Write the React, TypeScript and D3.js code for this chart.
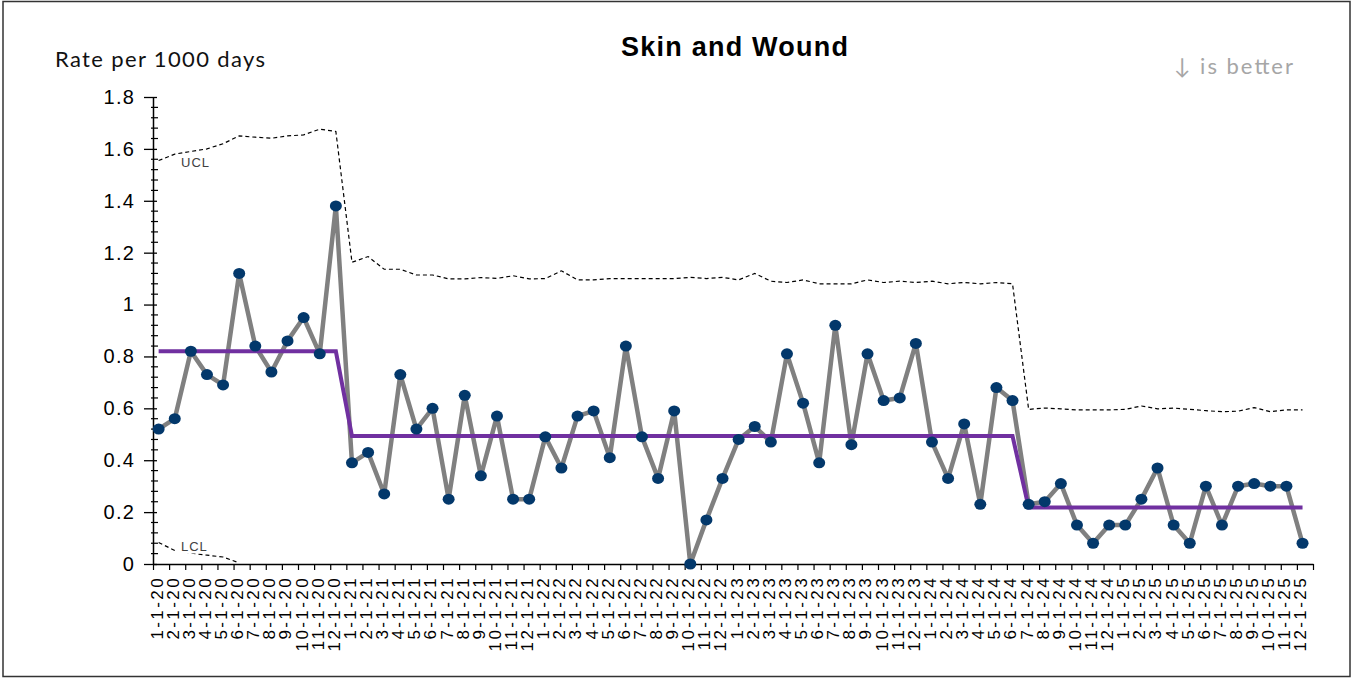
import React, { useEffect, useRef } from 'react';
import * as d3 from 'd3';

// Month labels (M-1-YY) along the category axis
const xLabels = [
  '1-1-20', '2-1-20', '3-1-20', '4-1-20', '5-1-20', '6-1-20', '7-1-20', '8-1-20', '9-1-20', '10-1-20', '11-1-20', '12-1-20',
  '1-1-21', '2-1-21', '3-1-21', '4-1-21', '5-1-21', '6-1-21', '7-1-21', '8-1-21', '9-1-21', '10-1-21', '11-1-21', '12-1-21',
  '1-1-22', '2-1-22', '3-1-22', '4-1-22', '5-1-22', '6-1-22', '7-1-22', '8-1-22', '9-1-22', '10-1-22', '11-1-22', '12-1-22',
  '1-1-23', '2-1-23', '3-1-23', '4-1-23', '5-1-23', '6-1-23', '7-1-23', '8-1-23', '9-1-23', '10-1-23', '11-1-23', '12-1-23',
  '1-1-24', '2-1-24', '3-1-24', '4-1-24', '5-1-24', '6-1-24', '7-1-24', '8-1-24', '9-1-24', '10-1-24', '11-1-24', '12-1-24',
  '1-1-25', '2-1-25', '3-1-25', '4-1-25', '5-1-25', '6-1-25', '7-1-25', '8-1-25', '9-1-25', '10-1-25', '11-1-25', '12-1-25',
];

// Monthly rate per 1000 days
const rate = [
  0.52, 0.56, 0.82, 0.73, 0.69, 1.12, 0.84, 0.74, 0.86, 0.95, 0.81, 1.38,
  0.39, 0.43, 0.27, 0.73, 0.52, 0.60, 0.25, 0.65, 0.34, 0.57, 0.25, 0.25,
  0.49, 0.37, 0.57, 0.59, 0.41, 0.84, 0.49, 0.33, 0.59, 0.0, 0.17, 0.33,
  0.48, 0.53, 0.47, 0.81, 0.62, 0.39, 0.92, 0.46, 0.81, 0.63, 0.64, 0.85,
  0.47, 0.33, 0.54, 0.23, 0.68, 0.63, 0.23, 0.24, 0.31, 0.15, 0.08, 0.15,
  0.15, 0.25, 0.37, 0.15, 0.08, 0.30, 0.15, 0.30, 0.31, 0.30, 0.30, 0.08,
];

// Upper control limit per month
const ucl = [
  1.555, 1.58, 1.59, 1.6, 1.62, 1.65, 1.645, 1.641, 1.65, 1.654, 1.676, 1.667,
  1.163, 1.185, 1.136, 1.136, 1.114, 1.114, 1.099, 1.099, 1.104, 1.101, 1.111, 1.099,
  1.1, 1.13, 1.095, 1.095, 1.1, 1.1, 1.1, 1.1, 1.1, 1.105, 1.1, 1.105,
  1.095, 1.12, 1.09, 1.085, 1.095, 1.08, 1.08, 1.08, 1.095, 1.085, 1.09, 1.085,
  1.09, 1.08, 1.085, 1.08, 1.085, 1.08, 0.596, 0.601, 0.598, 0.594, 0.594, 0.594,
  0.596, 0.609, 0.598, 0.601, 0.596, 0.591, 0.587, 0.589, 0.603, 0.587, 0.594, 0.594,
];

// Lower control limit (only shown while above zero)
const lcl: (number | null)[] = [0.083, 0.052, 0.042, 0.034, 0.027, 0.004];

// Centre line phases: last month index (exclusive) and mean
const phaseEnds = [12, 54, 72];
const phaseMeans = [0.82, 0.493, 0.218];

const yTicks = [0, 0.2, 0.4, 0.6, 0.8, 1, 1.2, 1.4, 1.6, 1.8];

const W = 1354;
const H = 678;

const SkinWoundChart: React.FC = () => {
  const svgRef = useRef<SVGSVGElement>(null);

  useEffect(() => {
    const svg = d3.select(svgRef.current);
    svg.selectAll('*').remove();

    const x = d3.scaleLinear().domain([0, 72]).range([153, 1313]);
    const y = d3.scaleLinear().domain([0, 1.8]).range([564, 97]);
    const px = (i: number) => x(i + 0.35);

    svg.append('rect').attr('width', W).attr('height', H).attr('fill', '#fff');
    svg.append('rect')
      .attr('x', 3).attr('y', 1.5).attr('width', 1347).attr('height', 675)
      .attr('fill', 'none').attr('stroke', '#333').attr('stroke-width', 1.5);

    // Title and labels
    svg.append('text')
      .attr('x', 734.5).attr('y', 56)
      .attr('text-anchor', 'middle')
      .attr('textLength', 227).attr('lengthAdjust', 'spacing')
      .style('font-family', 'Liberation Sans, Arial, sans-serif')
      .style('font-weight', 'bold').style('font-size', '27px')
      .text('Skin and Wound');

    svg.append('text')
      .attr('x', 55).attr('y', 67)
      .attr('textLength', 210).attr('lengthAdjust', 'spacing')
      .style('font-family', 'Lato, sans-serif').style('font-size', '22px')
      .style('fill', '#111')
      .text('Rate per 1000 days');

    svg.append('text')
      .attr('x', 1174).attr('y', 74)
      .attr('textLength', 119).attr('lengthAdjust', 'spacing')
      .style('font-family', 'Lato, sans-serif').style('font-size', '22px')
      .style('fill', '#a6a6a6')
      .text('↓ is better');

    // Y axis
    const yAxis = svg.append('g').attr('transform', 'translate(153,0)')
      .call(d3.axisLeft(y).tickValues(yTicks).tickSizeInner(9).tickSizeOuter(0).tickPadding(9)
        .tickFormat(d => d3.format('~g')(d as number)));
    yAxis.select('.domain').attr('stroke', '#000').attr('stroke-width', 1.5);
    yAxis.selectAll('.tick line').attr('x1', 4).attr('stroke-width', 1.3);
    yAxis.selectAll('.tick text')
      .style('font-family', 'Liberation Sans, Arial, sans-serif')
      .style('font-size', '20px').style('letter-spacing', '1.2px').attr('fill', '#000');

    // minor y ticks
    svg.append('g').selectAll('line')
      .data(d3.range(0, 46).filter(k => k % 5 !== 0))
      .join('line')
      .attr('x1', 151).attr('x2', 158)
      .attr('y1', k => y(k * 0.04)).attr('y2', k => y(k * 0.04))
      .attr('stroke', '#000').attr('stroke-width', 1.2);

    // X axis
    const xAxis = svg.append('g').attr('transform', 'translate(0,564)')
      .call(d3.axisBottom(x).tickValues(d3.range(0, 73)).tickSizeInner(6).tickSizeOuter(0).tickFormat(() => ''));
    xAxis.select('.domain').attr('stroke', '#000').attr('stroke-width', 1.5);
    xAxis.selectAll('.tick line').attr('stroke-width', 1.2);

    svg.append('g').selectAll('text')
      .data(xLabels)
      .join('text')
      .attr('transform', (_, i) => `translate(${px(i) - 2},576) rotate(-90)`)
      .attr('text-anchor', 'end')
      .attr('dy', '0.35em')
      .style('font-family', 'Liberation Sans, Arial, sans-serif')
      .style('font-size', '17px').style('letter-spacing', '2.4px')
      .text(d => d);

    // Control limits
    const limitLine = d3.line<number | null>()
      .defined(d => d !== null)
      .x((_, i) => px(i))
      .y(d => y(d as number));

    svg.append('path').datum(ucl as (number | null)[])
      .attr('d', limitLine).attr('fill', 'none')
      .attr('stroke', '#000').attr('stroke-width', 1.2).attr('stroke-dasharray', '4 3');
    svg.append('path').datum(lcl)
      .attr('d', limitLine).attr('fill', 'none')
      .attr('stroke', '#000').attr('stroke-width', 1.2).attr('stroke-dasharray', '4 3');

    const limitLabels = [
      { text: 'UCL', v: 1.555 },
      { text: 'LCL', v: 0.075 },
    ];
    limitLabels.forEach(l => {
      svg.append('rect').attr('x', 176).attr('y', y(l.v) - 6).attr('width', 38).attr('height', 15).attr('fill', '#fff');
      svg.append('text').attr('x', 181).attr('y', y(l.v) + 2).attr('dy', '0.35em')
        .style('font-family', 'Liberation Sans, Arial, sans-serif')
        .style('font-size', '13px').style('letter-spacing', '1px').style('fill', '#404040')
        .text(l.text);
    });

    // Data line
    const dataLine = d3.line<number>().x((_, i) => px(i)).y(d => y(d));
    svg.append('path').datum(rate)
      .attr('d', dataLine).attr('fill', 'none')
      .attr('stroke', '#808080').attr('stroke-width', 4.5).attr('stroke-linejoin', 'round');

    // Centre line built from phases
    const cl = rate.map((_, i) => phaseMeans[phaseEnds.findIndex(e => i < e)]);
    svg.append('path').datum(cl)
      .attr('d', dataLine).attr('fill', 'none')
      .attr('stroke', '#7030A0').attr('stroke-width', 4);

    svg.append('g').selectAll('ellipse')
      .data(rate)
      .join('ellipse')
      .attr('cx', (_, i) => px(i)).attr('cy', d => y(d))
      .attr('rx', 6).attr('ry', 5.5)
      .attr('fill', '#03386b');
  }, []);

  return (
    <div style={{ position: 'absolute', left: 0, top: 0 }}>
      <svg ref={svgRef} width={W} height={H} style={{ display: 'block' }}></svg>
    </div>
  );
};

export default function App() {
  return <SkinWoundChart />;
}
